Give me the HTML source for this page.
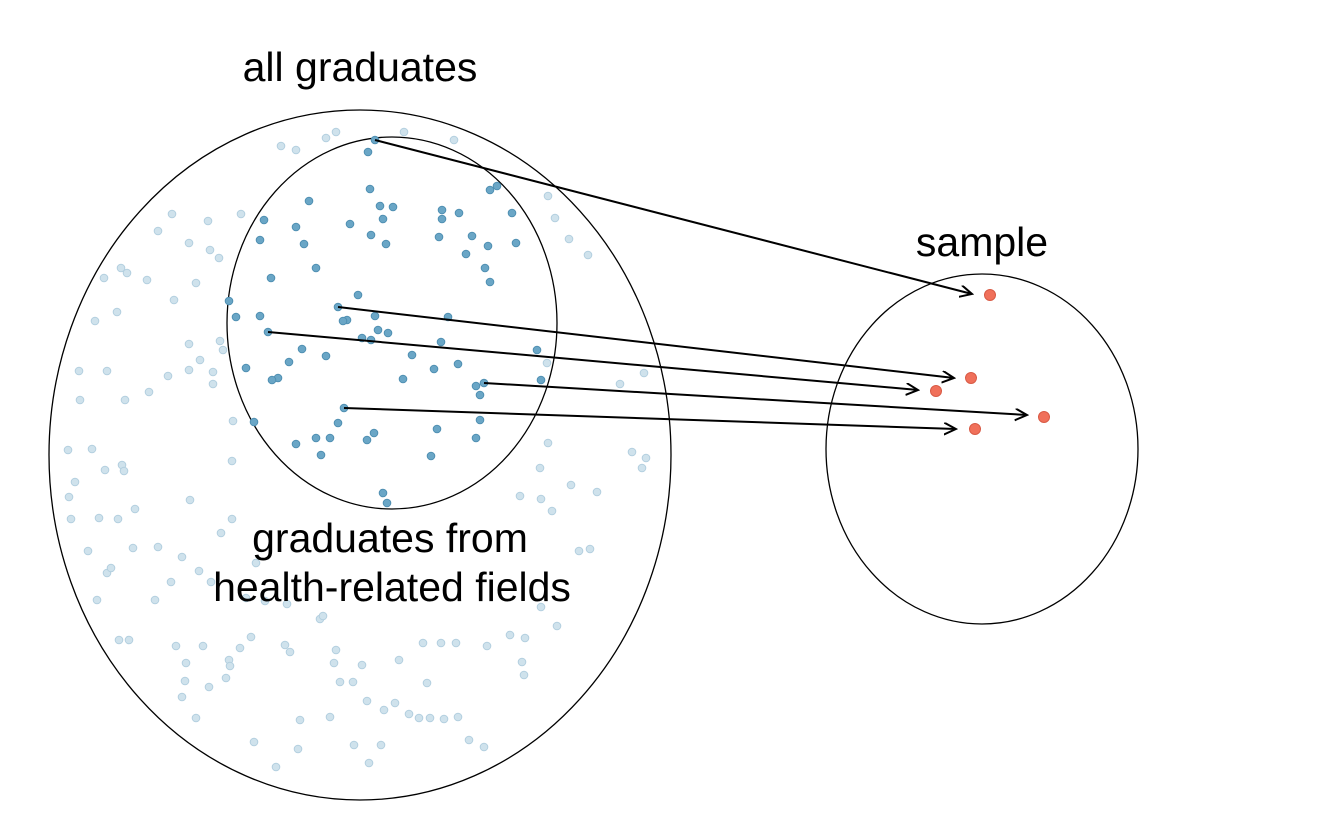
<!DOCTYPE html>
<html><head><meta charset="utf-8">
<style>
html,body{margin:0;padding:0;background:#fff;}
svg{display:block;}
text{font-family:"Liberation Sans",sans-serif;font-size:41px;fill:#000;}
</style></head>
<body>
<svg id="chart" width="1344" height="830" viewBox="0 0 1344 830" xmlns="http://www.w3.org/2000/svg">
<defs>
<marker id="ah" markerWidth="14" markerHeight="14" refX="12" refY="6" orient="auto" markerUnits="userSpaceOnUse">
<path d="M0,0 L12,6 L0,12" fill="none" stroke="#000" stroke-width="2"/>
</marker>
</defs>
<g id="light"></g>
<ellipse cx="360" cy="455" rx="311" ry="345" fill="none" stroke="#000" stroke-width="1.3"/>
<ellipse cx="392" cy="323" rx="165" ry="186" fill="none" stroke="#000" stroke-width="1.3"/>
<ellipse cx="982" cy="449" rx="156" ry="175" fill="none" stroke="#000" stroke-width="1.3"/>
<g id="dark"></g>
<g id="red"></g>
<g id="arrows"></g>
<text x="360" y="81" text-anchor="middle">all graduates</text>
<text x="982" y="256" text-anchor="middle">sample</text>
<text x="390" y="552" text-anchor="middle">graduates from</text>
<text x="392" y="601" text-anchor="middle">health-related fields</text>
</svg>
<script>
const lightPts=[[336,132],[326,138],[404,132],[281,146],[296,150],[454,140],[548,196],[555,218],[172,214],[241,214],[208,221],[158,231],[189,243],[210,250],[219,258],[569,239],[588,255],[121,268],[104,278],[127,273],[147,280],[196,283],[174,300],[117,312],[95,321],[220,341],[189,344],[223,350],[200,360],[79,371],[107,371],[168,376],[213,372],[189,370],[213,384],[149,392],[125,400],[80,400],[644,373],[620,384],[547,363],[233,421],[548,443],[68,450],[92,449],[632,452],[646,458],[642,468],[540,468],[105,470],[122,465],[124,471],[232,461],[75,482],[571,485],[69,497],[597,492],[190,500],[135,509],[520,496],[541,499],[552,511],[99,518],[118,519],[71,519],[232,519],[221,533],[88,551],[133,548],[158,547],[182,557],[107,573],[111,568],[171,582],[199,571],[579,551],[590,549],[256,563],[211,582],[155,600],[97,600],[246,598],[265,601],[287,604],[541,607],[557,626],[119,640],[129,640],[510,635],[525,638],[320,619],[323,616],[251,637],[176,646],[203,646],[240,648],[285,645],[290,652],[336,650],[423,643],[441,643],[456,643],[487,646],[229,660],[186,663],[334,663],[362,665],[399,660],[522,662],[230,666],[524,675],[185,681],[226,678],[209,687],[340,682],[353,682],[427,683],[182,697],[367,701],[395,703],[384,710],[409,714],[419,718],[430,718],[444,719],[458,717],[330,717],[300,720],[196,718],[469,740],[484,747],[254,742],[298,749],[354,745],[381,745],[369,763],[276,767]];
const darkPts=[[375,140],[368,152],[497,186],[490,190],[370,189],[380,206],[393,207],[309,201],[264,220],[296,227],[350,224],[383,219],[442,210],[459,213],[442,219],[512,213],[260,240],[304,244],[371,235],[386,244],[439,237],[472,236],[488,246],[516,243],[466,254],[316,268],[271,278],[485,268],[490,282],[358,295],[229,301],[338,307],[236,317],[260,316],[347,320],[343,321],[375,316],[448,317],[268,332],[378,330],[388,333],[362,338],[371,340],[441,342],[537,350],[289,362],[302,349],[326,356],[412,355],[458,364],[246,368],[278,378],[272,380],[434,369],[403,379],[476,386],[484,383],[344,408],[480,395],[541,380],[338,423],[480,420],[254,422],[374,433],[367,440],[330,438],[296,444],[316,438],[437,429],[476,438],[321,455],[431,456],[383,493],[387,503]];
const samplePts=[[990,295],[971,378],[936,391],[1044,417],[975,429]];
const arrowFrom=[[375,140],[338,307],[268,332],[484,383],[344,408]];
const arrowTo=[[972,294],[954,378],[918,390],[1027,415],[956,429]];
const NS="http://www.w3.org/2000/svg";
function dot(g,p,r,fill,stroke,op){
  const c=document.createElementNS(NS,'circle');
  c.setAttribute('cx',p[0]);c.setAttribute('cy',p[1]);c.setAttribute('r',r);
  c.setAttribute('fill',fill);c.setAttribute('stroke',stroke);c.setAttribute('stroke-width','1');
  c.setAttribute('opacity',op);
  g.appendChild(c);return c;
}
const gl=document.getElementById('light');
lightPts.forEach(p=>{
  const c=dot(gl,p,3.8,'#cfe2ec','#b3cfdf',1);
  
  
});
const gd=document.getElementById('dark');
darkPts.forEach(p=>{
  const c=dot(gd,p,3.8,'#6aa6c6','#4f8fb2',1);
  
  
});
const gr=document.getElementById('red');
samplePts.forEach(p=>{
  const c=dot(gr,p,5.5,'#f0705a','#d85a45',1);
  
  
});
const ga=document.getElementById('arrows');
arrowFrom.forEach((f,i)=>{
  const l=document.createElementNS(NS,'line');
  l.setAttribute('x1',f[0]);l.setAttribute('y1',f[1]);
  l.setAttribute('x2',arrowTo[i][0]);l.setAttribute('y2',arrowTo[i][1]);
  l.setAttribute('stroke','#000');l.setAttribute('stroke-width','2');
  l.setAttribute('marker-end','url(#ah)');
  
  
  ga.appendChild(l);
});
</script>
</body></html>
